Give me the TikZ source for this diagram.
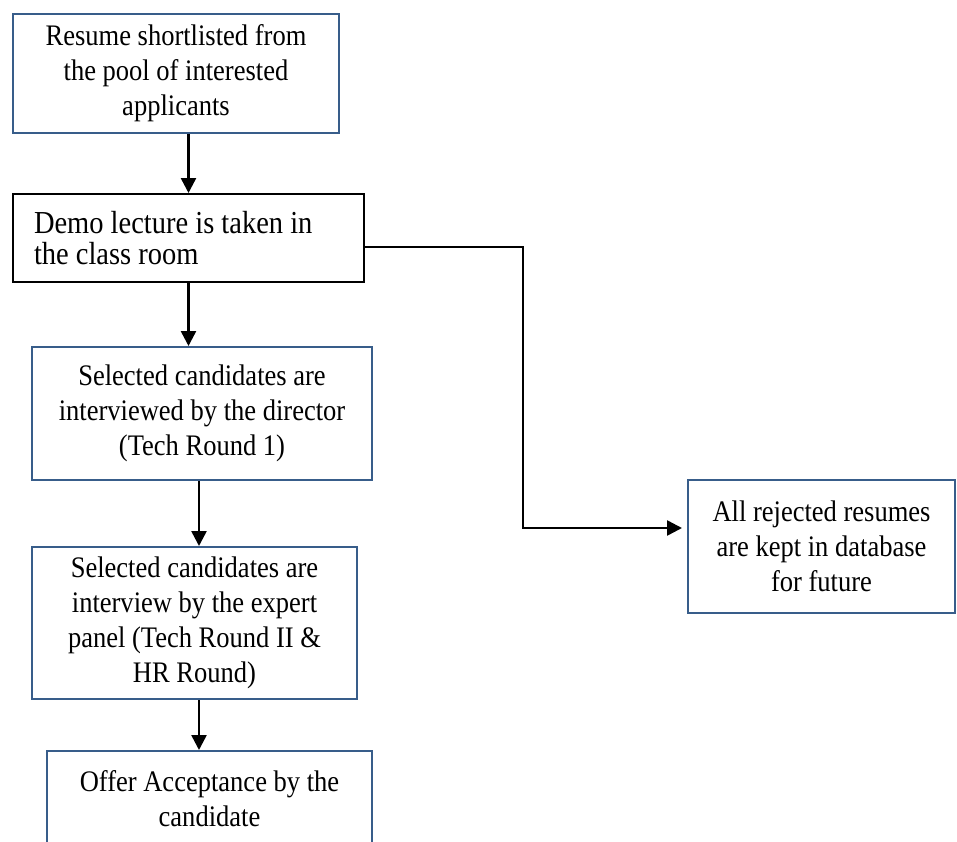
\documentclass[tikz,border=0pt]{standalone}
\usepackage{fontspec}
\setmainfont{Liberation Serif}[FakeStretch=0.89]
\usetikzlibrary{arrows.meta}
\definecolor{boxblue}{HTML}{385D8A}
\tikzset{
  stage/.style={draw=boxblue, line width=2pt, align=center, inner sep=0pt,
    font=\fontsize{29.8pt}{35pt}\selectfont},
  flow/.style={line width=2.5pt, -{Triangle[length=15pt,width=15pt]}}
}
\begin{document}
\begin{tikzpicture}[x=1pt,y=-1pt]
      \useasboundingbox (0,0) rectangle (957,841);
      \clip (0,0) rectangle (957,841);
      % boxes of the hiring process
      \node[stage, minimum width=326pt, minimum height=119pt] (resume) at (176,73.5)
        {Resume shortlisted from\\the pool of interested\\applicants};
      \node[stage, draw=black, align=flush left, text width=309pt, inner xsep=21pt,
        minimum height=88pt, font=\fontsize{32pt}{31pt}\selectfont] (demo) at (188.5,238)
        {Demo lecture is taken in\\the class room};
      \node[stage, minimum width=340pt, minimum height=133pt] (director) at (202,413.5)
        {Selected candidates are\\interviewed by the director\\(Tech Round 1)};
      \node[stage, minimum width=325pt, minimum height=152pt] (panel) at (194.5,623)
        {Selected candidates are\\interview by the expert\\panel (Tech Round II \&\\HR Round)};
      \node[stage, minimum width=325pt, minimum height=95pt] (offer) at (209.5,798.5)
        {Offer Acceptance by the\\candidate};
      \node[stage, minimum width=267pt, minimum height=133pt] (reject) at (821.5,546.5)
        {All rejected resumes\\are kept in database\\for future};
      % connectors
      \coordinate (midline) at (199,0);
      \coordinate (bendtop) at (523,247);
      \coordinate (bendlow) at (523,528);
      \draw[flow] (demo.north |- resume.south) -- (demo.north);
      \draw[flow] (demo.south) -- (demo.south |- director.north);
      \draw[flow] (director.south -| midline) -- (panel.north -| midline);
      \draw[flow] (panel.south -| midline) -- (offer.north -| midline);
      \draw[flow, shorten >=5pt] (demo.east |- bendtop) -- (bendtop) -- (bendlow) -- (reject.west |- bendlow);
    \end{tikzpicture}
\end{document}
